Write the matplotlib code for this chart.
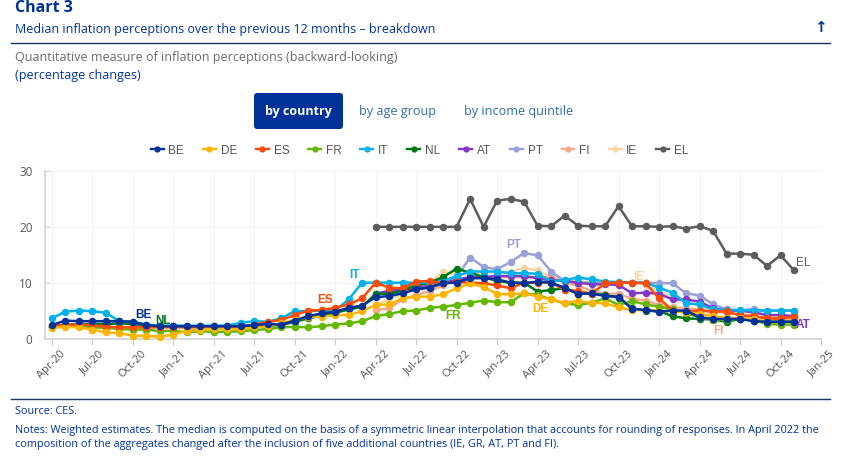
import matplotlib
matplotlib.use('Agg')
import matplotlib.pyplot as plt
from matplotlib.lines import Line2D
from matplotlib.patches import FancyBboxPatch

plt.rcParams['font.family'] = ['Open Sans', 'DejaVu Sans']

NAVY = '#003299'
DARK = '#17375e'

tick_labels = ['Apr-20', 'Jul-20', 'Oct-20', 'Jan-21', 'Apr-21', 'Jul-21', 'Oct-21', 'Jan-22',
               'Apr-22', 'Jul-22', 'Oct-22', 'Jan-23', 'Apr-23', 'Jul-23', 'Oct-23', 'Jan-24',
               'Apr-24', 'Jul-24', 'Oct-24', 'Jan-25']

be = [2.4, 3.2, 3.1, 3.1, 3.1, 3.1, 3.0, 2.4, 2.2, 2.2, 2.2, 2.2, 2.2, 2.2, 2.2, 2.4, 2.6, 2.5,
      3.2, 4.0, 4.5, 4.8, 5.5, 5.9, 7.4, 7.6, 8.1, 8.8, 9.1, 9.9, 10.0, 10.8, 10.8, 10.6, 10.0, 9.9,
      10.2, 10.0, 9.1, 8.0, 8.1, 7.6, 7.5, 5.3, 5.1, 4.8, 5.0, 5.0, 3.8, 3.5, 3.5, 3.5, 3.1, 3.0, 3.0, 3.0]
de = [1.9, 2.1, 2.0, 1.6, 1.1, 1.0, 0.5, 0.5, 0.3, 0.7, 1.4, 1.6, 1.7, 1.7, 1.7, 2.0, 2.2, 2.7,
      3.3, 3.9, 3.9, 4.2, 4.2, 4.9, 6.0, 6.1, 7.2, 7.5, 7.5, 7.9, 9.0, 9.9, 9.2, 8.0, 7.9, 8.1,
      7.5, 7.0, 6.4, 6.7, 6.4, 6.3, 5.6, 5.1, 5.1, 4.9, 4.9, 4.7, 4.4, 4.0, 3.7, 3.6, 3.5, 3.0, 2.9, 3.0]
es = [2.2, 2.4, 2.5, 2.4, 2.1, 2.0, 2.0, 2.0, 2.0, 2.0, 2.0, 2.0, 2.0, 2.0, 2.2, 2.5, 3.0, 3.3,
      4.2, 5.0, 5.1, 5.5, 6.1, 7.2, 10.0, 9.1, 9.0, 10.2, 10.3, 9.9, 10.1, 10.0, 9.9, 9.5, 9.0, 10.0,
      10.0, 10.0, 8.7, 8.5, 8.0, 9.9, 10.0, 10.0, 9.9, 7.2, 5.0, 4.8, 5.0, 4.8, 4.9, 4.1, 4.0, 3.6, 3.6, 3.9]
fr = [2.0, 2.2, 2.2, 2.0, 1.9, 1.7, 1.6, 1.6, 1.3, 1.4, 1.1, 1.3, 1.2, 1.2, 1.3, 1.5, 1.7, 2.0,
      2.1, 2.0, 2.2, 2.5, 2.7, 3.1, 4.0, 4.4, 4.9, 5.0, 5.5, 5.7, 6.0, 6.4, 6.8, 6.5, 6.5, 8.1,
      7.8, 7.0, 6.3, 6.0, 6.4, 7.2, 6.0, 6.7, 6.1, 5.7, 5.2, 4.5, 3.8, 3.4, 3.3, 3.6, 3.3, 2.6, 2.5, 2.5]
it = [3.6, 4.8, 5.0, 4.9, 4.6, 3.1, 3.0, 2.5, 2.3, 2.3, 2.3, 2.3, 2.3, 2.3, 2.8, 3.1, 3.0, 3.6,
      4.9, 4.9, 5.0, 5.0, 7.0, 10.0, 10.0, 10.0, 10.0, 10.0, 10.0, 10.2, 11.2, 12.0, 12.0, 12.0, 11.7, 11.7,
      11.6, 10.2, 10.5, 10.9, 10.6, 10.2, 10.1, 10.0, 10.0, 9.1, 8.2, 6.3, 6.1, 5.2, 5.1, 5.1, 5.0, 5.0, 5.0, 5.0]
nl = [2.1, 2.5, 2.5, 2.6, 2.6, 2.7, 2.6, 2.3, 2.2, 2.1, 2.1, 2.1, 2.1, 2.1, 2.1, 2.1, 2.3, 2.4,
      3.0, 3.6, 4.1, 4.6, 5.2, 5.7, 8.0, 8.0, 8.6, 9.5, 10.0, 11.0, 12.5, 11.8, 11.0, 10.3, 10.0, 10.0,
      8.4, 8.7, 9.0, 8.0, 8.0, 7.8, 7.3, 5.4, 5.0, 4.9, 4.0, 3.6, 3.5, 3.4, 3.0, 3.5, 3.2, 3.0, 3.0, 3.0]

# the five countries below only join in April 2022
late_start = 24
at = [8.0, 8.5, 8.8, 9.0, 9.5, 10.0, 10.5, 11.0, 11.0, 11.2, 11.2, 11.2, 10.8, 10.4, 10.3, 10.0,
      9.7, 9.7, 9.6, 8.1, 8.2, 8.0, 7.0, 7.0, 6.6, 5.4, 5.0, 5.0, 4.7, 4.2, 4.2, 4.0]
pt = [8.0, 8.5, 9.0, 9.5, 10.0, 10.5, 11.0, 14.5, 12.8, 12.4, 13.7, 15.3, 14.9, 12.0, 10.3, 10.0,
      10.0, 10.0, 10.0, 10.0, 10.0, 9.9, 9.9, 8.1, 7.7, 6.1, 5.2, 5.0, 5.3, 4.9, 5.0, 5.0]
fi = [5.1, 5.4, 7.0, 7.8, 8.5, 9.5, 10.5, 11.0, 11.0, 11.0, 11.0, 11.0, 11.0, 11.0, 10.0, 9.5,
      8.5, 8.0, 8.0, 7.1, 6.8, 6.0, 5.6, 5.4, 5.2, 4.8, 4.6, 4.3, 4.0, 3.6, 3.5, 3.5]
ie = [6.0, 7.0, 8.0, 9.0, 10.0, 11.9, 11.5, 11.5, 12.0, 11.7, 12.0, 12.6, 12.2, 11.0, 10.5, 10.3,
      10.0, 10.0, 10.0, 10.0, 9.6, 8.5, 7.5, 6.5, 5.9, 5.0, 5.0, 4.8, 4.5, 4.0, 4.0, 4.0]
el = [20.0, 20.0, 20.0, 20.0, 20.0, 20.0, 20.0, 25.0, 20.0, 24.7, 25.0, 24.5, 20.2, 20.1, 22.0, 20.2,
      20.1, 20.1, 23.7, 20.1, 20.1, 20.0, 20.1, 19.7, 20.1, 19.3, 15.2, 15.2, 15.0, 13.0, 14.9, 12.2]

names = ['BE', 'DE', 'ES', 'FR', 'IT', 'NL', 'AT', 'PT', 'FI', 'IE', 'EL']
series = [be, de, es, fr, it, nl, at, pt, fi, ie, el]
colors = ['#003299', '#ffb400', '#ff4b00', '#65b800', '#00b1ea', '#007816',
          '#8139c6', '#9aa0d8', '#f3a98a', '#fbd6a3', '#5c5c5c']

fig = plt.figure(figsize=(8.56, 4.68), dpi=100)

ax = fig.add_axes([45 / 856, 1 - 338.5 / 468, (821 - 45) / 856, (338.5 - 171) / 468])
for i, (name, vals, col) in enumerate(zip(names, series, colors)):
    x0 = 0 if len(vals) == 56 else late_start
    xs = list(range(x0, x0 + len(vals)))
    ax.plot(xs, vals, color=col, lw=1.8, marker='o', ms=5.4, mew=0, zorder=20 - i,
            clip_on=False, label=name)

ax.set_xlim(-0.5, 57)
ax.set_ylim(0, 30)
ax.set_yticks([0, 10, 20, 30])
ax.set_xticks(range(0, 58, 3))
ax.set_xticklabels(tick_labels, rotation=45, ha='center', va='top',
                   fontsize=8, color='#555555', family=['Open Sans'])
ax.tick_params(axis='y', direction='in', length=3.5, color='#d6d6d6', labelsize=8.5,
               labelcolor='#555555', pad=9)
ax.tick_params(axis='x', length=4, color='#cccccc', pad=3)
ax.grid(True, color='#f3f3f3', lw=0.8, zorder=0)
ax.set_axisbelow(True)
for side in ['top', 'right']:
    ax.spines[side].set_visible(False)
for side in ['left', 'bottom']:
    ax.spines[side].set_color('#d6d6d6')
    ax.spines[side].set_linewidth(1.3)

# overlay in pixel units for the page furniture around the chart
page = fig.add_axes([0, 0, 1, 1], zorder=30)
page.set_xlim(0, 856)
page.set_ylim(468, 0)
page.axis('off')
page.patch.set_alpha(0)

page.text(15, 12.5, 'Chart 3', fontsize=11.5, fontweight='bold', color=NAVY, va='baseline')
page.text(15, 29, 'Median inflation perceptions over the previous 12 months \u2013 breakdown',
          fontsize=8.98, color=NAVY, va='center')
page.text(820, 28, '\u2191', fontsize=11, color=NAVY, va='center', ha='center', fontweight='bold',
          family=['DejaVu Sans'])
page.plot([11, 830], [43, 43], color=DARK, lw=1.0)
page.text(15, 57, 'Quantitative measure of inflation perceptions (backward-looking)',
          fontsize=8.98, color='#6b6b6b', va='center')
page.text(15, 75, '(percentage changes)', fontsize=8.98, color=NAVY, va='center')

page.add_patch(FancyBboxPatch((257, 96), 83, 30, boxstyle='round,pad=3,rounding_size=3',
                              fc=NAVY, ec='none'))
page.text(298.5, 111, 'by country', fontsize=9, fontweight='bold', color='white',
          va='center', ha='center')
page.text(397.5, 111, 'by age group', fontsize=9.1, color='#2f6ea8', va='center', ha='center')
page.text(519, 111, 'by income quintile', fontsize=9.1, color='#2f6ea8', va='center', ha='center')

handles = [Line2D([], [], color=c, lw=1.7, marker='o', ms=4.5, mew=0) for c in colors]
leg = page.legend(handles, names, ncol=11, loc='center', bbox_to_anchor=(419.5 / 856, 1 - 150.5 / 468),
                  bbox_transform=fig.transFigure, frameon=False,
                  handlelength=1.1, handletextpad=0.4, columnspacing=1.6, labelcolor='#555555',
                  prop={'family': ['Liberation Sans'], 'size': 8.5})

label_pos = [('BE', 143, 315, '#003299'), ('NL', 163, 321, '#007816'), ('ES', 325, 300, '#ff4b00'),
             ('IT', 354, 275, '#00b1ea'), ('PT', 514, 245, '#9aa0d8'), ('FR', 453, 316, '#65b800'),
             ('DE', 540, 309, '#ffb400'), ('IE', 639, 277, '#fbd6a3'), ('FI', 718, 331, '#f3a98a'),
             ('AT', 803, 325, '#8139c6'), ('EL', 803, 263, '#5c5c5c')]
for lab, lx, ly, col in label_pos:
    page.text(lx, ly, lab, fontsize=8.5, color=col, va='center', ha='center',
              family=['Liberation Sans'], fontweight='bold' if lab != 'EL' else 'normal')

page.plot([11, 830], [399, 399], color=DARK, lw=1.0)
page.text(15, 412, 'Source: CES.', fontsize=7.8, color=NAVY, va='center')
page.text(15, 430, 'Notes: Weighted estimates. The median is computed on the basis of a symmetric linear '
          'interpolation that accounts for rounding of responses. In April 2022 the',
          fontsize=7.8, color=NAVY, va='center')
page.text(15, 444, 'composition of the aggregates changed after the inclusion of five additional '
          'countries (IE, GR, AT, PT and FI).', fontsize=7.8, color=NAVY, va='center')

fig.savefig('out.png', dpi=100)
